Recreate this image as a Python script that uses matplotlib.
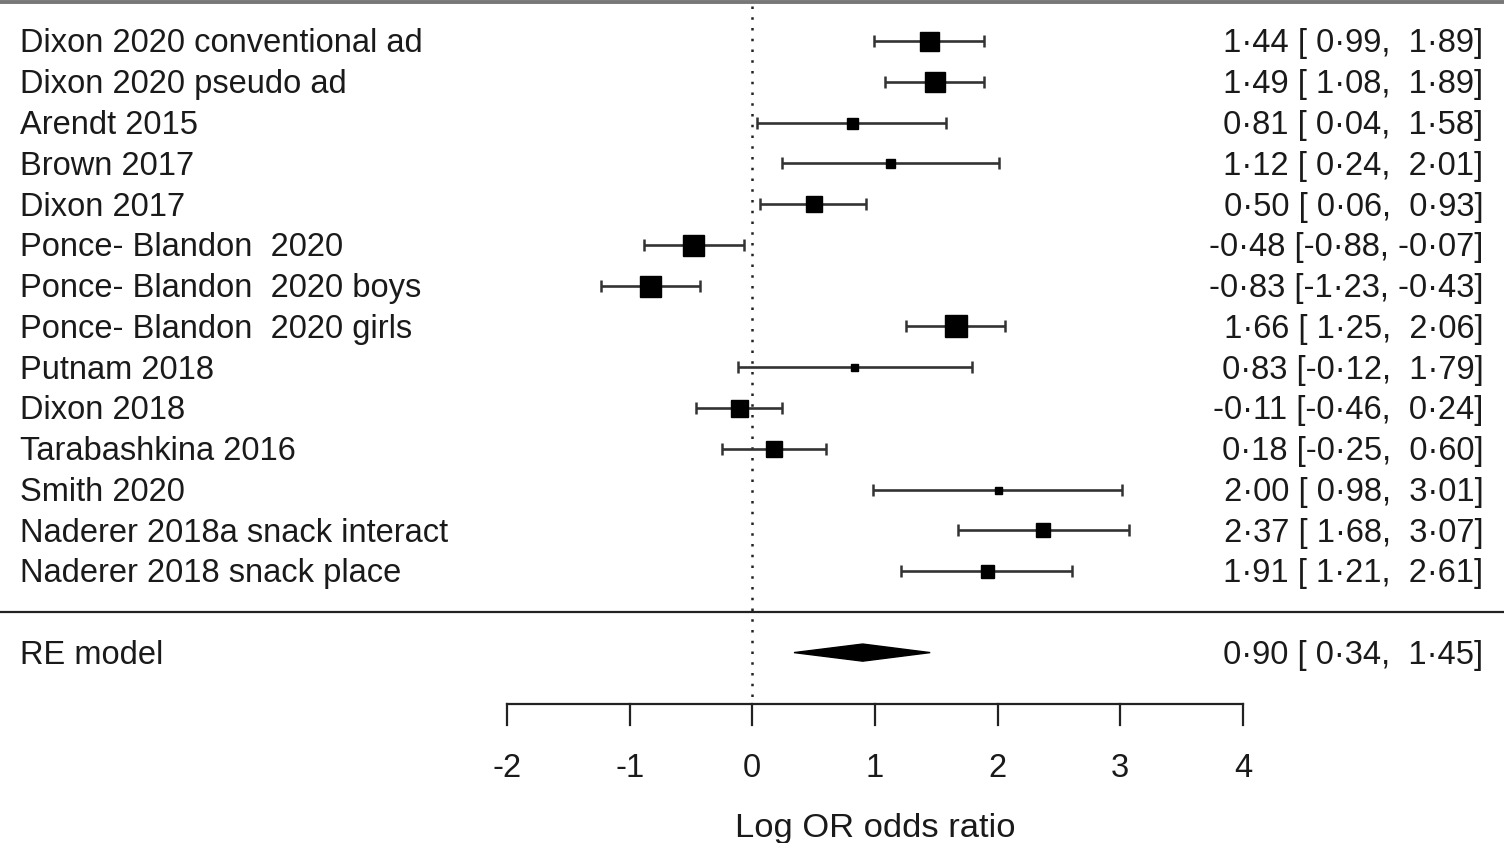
import numpy as np
import matplotlib
matplotlib.use('Agg')
import matplotlib.pyplot as plt
import matplotlib.patches as patches

plt.rcParams['font.family'] = ['Liberation Sans', 'DejaVu Sans']

studies = ['Dixon 2020 conventional ad', 'Dixon 2020 pseudo ad', 'Arendt 2015',
           'Brown 2017', 'Dixon 2017', 'Ponce- Blandon  2020',
           'Ponce- Blandon  2020 boys', 'Ponce- Blandon  2020 girls',
           'Putnam 2018', 'Dixon 2018', 'Tarabashkina 2016', 'Smith 2020',
           'Naderer 2018a snack interact', 'Naderer 2018 snack place']
est = [1.44, 1.49, 0.81, 1.12, 0.50, -0.48, -0.83, 1.66, 0.83, -0.11, 0.18, 2.00, 2.37, 1.91]
lo = [0.99, 1.08, 0.04, 0.24, 0.06, -0.88, -1.23, 1.25, -0.12, -0.46, -0.25, 0.98, 1.68, 1.21]
hi = [1.89, 1.89, 1.58, 2.01, 0.93, -0.07, -0.43, 2.06, 1.79, 0.24, 0.60, 3.01, 3.07, 2.61]
# relative weights, shown as square size (px)
weight = [19, 20, 11, 9, 16, 21, 21, 22, 7, 17, 16, 7, 14, 13]

re_est, re_lo, re_hi = 0.90, 0.34, 1.45
xticks = [-2, -1, 0, 1, 2, 3, 4]


def fmt(v):
    return f'{v:5.2f}'.replace('.', '\u00b7')


fig = plt.figure(figsize=(15.04, 8.43), dpi=100)
ax = fig.add_axes([0, 0, 1, 1])
ax.set_xlim(-6.133, 6.128)
ax.set_ylim(20.67, -0.006)
ax.axis('off')

fs = 23.5
tc = '#1a1a1a'
base = 0.28  # text baseline offset below row centre
n = len(studies)
rows = np.arange(1, n + 1)
re_row = n + 2

# top and separator lines
ax.plot([-6.2, 6.2], [0.04, 0.04], color='#777777', lw=2.8, solid_capstyle='butt')
ax.plot([-6.2, 6.2], [n + 1, n + 1], color='#222222', lw=1.6)

# reference line
ax.plot([0, 0], [0.15, 17.2], color='#222222', lw=1.8, linestyle=(0, (1, 3.3)))

for r, name, e, l, h, w in zip(rows, studies, est, lo, hi, weight):
    ax.errorbar([e], [r], xerr=[[e - l], [h - e]], fmt='none', ecolor='#333333',
                elinewidth=1.9, capsize=4.3, capthick=1.8)
    ax.plot([e], [r], marker='s', color='black', markersize=w * 0.72, linestyle='none')
    ax.text(-5.97, r + base, name, fontsize=fs, va='baseline', ha='left', color=tc)
    ax.text(5.96, r + base, f'{fmt(e)} [{fmt(l)}, {fmt(h)}]', fontsize=fs,
            va='baseline', ha='right', color=tc)

# summary diamond
dh = 0.21
diamond = patches.Polygon([[re_lo, re_row], [re_est, re_row - dh], [re_hi, re_row],
                           [re_est, re_row + dh]], closed=True, facecolor='black',
                          edgecolor='black')
ax.add_patch(diamond)
ax.text(-5.97, re_row + base, 'RE model', fontsize=fs, va='baseline', ha='left', color=tc)
ax.text(5.96, re_row + base, f'{fmt(re_est)} [{fmt(re_lo)}, {fmt(re_hi)}]', fontsize=fs,
        va='baseline', ha='right', color=tc)

# x axis
axis_y = 17.27
ax.plot([xticks[0], xticks[-1]], [axis_y, axis_y], color='#222222', lw=1.6)
for t in xticks:
    ax.plot([t, t], [axis_y, axis_y + 0.5], color='#222222', lw=1.6)
    ax.text(t, 18.76 + base, str(t), fontsize=fs, ha='center', va='baseline', color=tc)
ax.text(np.mean([xticks[0], xticks[-1]]), 20.24 + base, 'Log OR odds ratio', fontsize=24.8,
        ha='center', va='baseline', color=tc)

fig.savefig('out.png', dpi=100)
